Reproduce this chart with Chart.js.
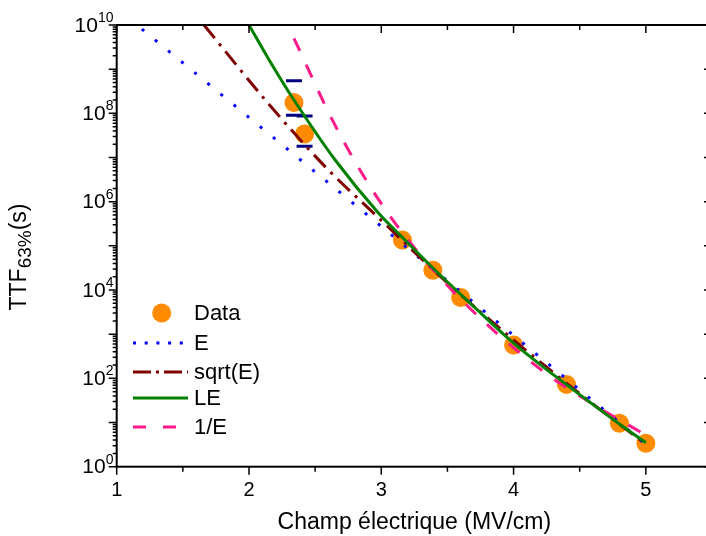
<!DOCTYPE html>
<html>
<head>
<meta charset="utf-8">
<script src="https://cdn.jsdelivr.net/npm/chart.js@4/dist/chart.umd.min.js"></script>
<style>
  html, body { margin: 0; padding: 0; background: #fff; overflow: hidden; }
  #wrap { width: 724px; height: 536px; }
</style>
</head>
<body>
<div id="wrap"><canvas id="grafico" width="724" height="536"></canvas></div>
<script>
// ================= DADOS =================

// mesures TTF 63% (s) en fonction du champ (MV/cm)
const champData = [2.34, 2.42, 3.16, 3.39, 3.60, 4.00, 4.40, 4.80, 5.00];
const ttfData = [1.75e8, 3.4e7, 1.35e5, 2.8e4, 6.8e3, 570, 73, 9.6, 3.4];

// barres d'erreur (seulement les extrémités sont visibles)
const champErreur = [2.34, 2.34, 2.42, 2.42];
const ttfErreur = [5.5e8, 9.0e7, 8.7e7, 1.8e7];

// modèle E
const champE = [1.19, 3.00, 5.00];
const ttfE = [8.1e9, 2.75e5, 3.2];

// modèle sqrt(E)
const champSqrt = [1.66, 2.13, 2.59, 2.94, 3.50, 4.00, 4.50, 5.00];
const ttfSqrt = [1.0e10, 1.9e8, 5.6e6, 5.6e5, 1.45e4, 740, 45, 3.2];

// modèle LE
const champLE = [2.00, 2.15, 2.34, 2.65, 2.98, 3.15, 3.40, 3.70, 4.00, 4.40, 4.80, 5.00];
const ttfLE = [1.0e10, 1.66e9, 2.0e8, 8.9e6, 5.5e5, 1.66e5, 2.95e4, 4.2e3, 630, 72, 9.3, 3.5];

// modèle 1/E
const champInv = [2.34, 2.63, 2.83, 3.06, 3.40, 3.77, 4.26, 4.61, 5.00];
const ttfInv = [5.0e9, 7.1e7, 5.8e6, 5.0e5, 2.7e4, 2.0e3, 120, 25, 5.2];

const expoentes = [0, 2, 4, 6, 8, 10];

const FONTE = '"Liberation Sans", Arial, sans-serif';

function pares(xs, ys) {
  return xs.map((x, i) => ({ x, y: ys[i] }));
}

// ================= PLUGIN EIXOS / LEGENDA =================

const legenda = [
  { label: "Data", tipo: "ponto", cor: "#FF8C00", y: 313 },
  { label: "E", cor: "#0000FF", dash: [3, 8.7], y: 343 },
  { label: "sqrt(E)", cor: "#800000", dash: [18, 5, 3, 5], y: 372 },
  { label: "LE", cor: "#008000", dash: [], y: 398 },
  { label: "1/E", cor: "#FF1A8C", dash: [13, 17], y: 427 }
];

const eixosPlugin = {
  id: "eixos",
  afterDraw(chart) {
    const { ctx, chartArea: a, scales: { x, y } } = chart;
    ctx.save();

    // moldura
    ctx.strokeStyle = "#000";
    ctx.lineWidth = 2;
    ctx.strokeRect(a.left, a.top, a.right - a.left, a.bottom - a.top);

    // ticks
    ctx.lineWidth = 1.5;
    ctx.beginPath();
    for (let v = 1; v <= 5.5; v += 0.5) {
      const px = x.getPixelForValue(v);
      const len = Number.isInteger(v) ? 8 : 5;
      ctx.moveTo(px, a.bottom); ctx.lineTo(px, a.bottom + len);
      ctx.moveTo(px, a.top); ctx.lineTo(px, a.top + len);
    }
    for (let e = 0; e <= 10; e++) {
      for (let m = 1; m <= 9; m++) {
        if (e === 10 && m > 1) break;
        const py = y.getPixelForValue(m * Math.pow(10, e));
        const len = m === 1 ? 8 : 4;
        ctx.moveTo(a.left, py); ctx.lineTo(a.left - len, py);
        ctx.moveTo(a.right, py); ctx.lineTo(a.right - len, py);
      }
    }
    ctx.stroke();

    // labels do eixo y (10 com expoente)
    ctx.fillStyle = "#000";
    ctx.textAlign = "left";
    ctx.textBaseline = "middle";
    ctx.font = `14px ${FONTE}`;
    const wUm = ctx.measureText("0").width;
    expoentes.forEach(e => {
      const py = y.getPixelForValue(Math.pow(10, e));
      ctx.font = `14px ${FONTE}`;
      const wSup = ctx.measureText(String(e)).width;
      ctx.font = `21px ${FONTE}`;
      const wBase = ctx.measureText("10").width;
      const fim = a.left - 11 - (wSup - wUm);
      ctx.fillText("10", fim - wBase, py + 1);
      ctx.font = `14px ${FONTE}`;
      ctx.fillText(String(e), fim, py - 7);
    });

    // titulo do eixo y com indice
    ctx.translate(26, 257);
    ctx.rotate(-Math.PI / 2);
    ctx.textBaseline = "alphabetic";
    ctx.font = `23px ${FONTE}`;
    const w1 = ctx.measureText("TTF").width;
    const w3 = ctx.measureText("(s)").width;
    ctx.font = `19px ${FONTE}`;
    const w2 = ctx.measureText("63%").width;
    let cx = -(w1 + w2 + w3) / 2;
    ctx.font = `23px ${FONTE}`;
    ctx.fillText("TTF", cx, 0);
    cx += w1;
    ctx.font = `19px ${FONTE}`;
    ctx.fillText("63%", cx, 5);
    cx += w2;
    ctx.font = `23px ${FONTE}`;
    ctx.fillText("(s)", cx, 0);
    ctx.restore();

    // legenda
    ctx.save();
    ctx.font = `22px ${FONTE}`;
    ctx.textBaseline = "middle";
    ctx.textAlign = "left";
    legenda.forEach(item => {
      if (item.tipo === "ponto") {
        ctx.fillStyle = item.cor;
        ctx.beginPath();
        ctx.arc(161.7, item.y, 9.5, 0, Math.PI * 2);
        ctx.fill();
      } else {
        ctx.strokeStyle = item.cor;
        ctx.lineWidth = 3;
        ctx.setLineDash(item.dash);
        ctx.beginPath();
        ctx.moveTo(133, item.y);
        ctx.lineTo(188, item.y);
        ctx.stroke();
        ctx.setLineDash([]);
      }
      ctx.fillStyle = "#000";
      ctx.fillText(item.label, 194, item.y + 1);
    });
    ctx.restore();
  }
};

// ================= GRAFICO =================

function linha(label, xs, ys, cor, dash, ordem) {
  return {
    label,
    data: pares(xs, ys),
    showLine: true,
    borderColor: cor,
    borderWidth: 3,
    borderDash: dash,
    pointRadius: 0,
    cubicInterpolationMode: "monotone",
    order: ordem
  };
}

new Chart(document.getElementById("grafico"), {
  type: "scatter",
  data: {
    datasets: [
      {
        label: "Data",
        data: pares(champData, ttfData),
        backgroundColor: "#FF8C00",
        borderWidth: 0,
        pointRadius: 9.5,
        order: 10
      },
      {
        label: "erreur",
        data: pares(champErreur, ttfErreur),
        pointStyle: "line",
        pointRadius: 8,
        borderColor: "#000080",
        borderWidth: 3,
        order: 9
      },
      linha("E", champE, ttfE, "#0000FF", [3, 14], 4),
      linha("sqrt(E)", champSqrt, ttfSqrt, "#800000", [17, 7, 3, 7], 3),
      linha("LE", champLE, ttfLE, "#008000", [], 1),
      linha("1/E", champInv, ttfInv, "#FF1A8C", [14, 15], 2)
    ]
  },
  options: {
    responsive: false,
    animation: false,
    devicePixelRatio: 1,
    layout: { padding: { top: 25, right: 5.3, left: 0, bottom: 0 } },
    plugins: { legend: { display: false }, tooltip: { enabled: false } },
    scales: {
      x: {
        type: "linear",
        min: 1,
        max: 5.5,
        grid: { display: false, drawTicks: false },
        border: { display: false },
        ticks: {
          stepSize: 0.5,
          autoSkip: false,
          maxRotation: 0,
          padding: 12,
          color: "#000",
          font: { family: FONTE, size: 20 },
          callback: v => (Number.isInteger(v) ? v : "")
        },
        title: {
          display: true,
          text: "Champ électrique (MV/cm)",
          color: "#000",
          font: { family: FONTE, size: 23 },
          padding: { top: 0, bottom: 0 }
        },
        afterFit(s) { s.height = 69.3; }
      },
      y: {
        type: "logarithmic",
        min: 1,
        max: 1e10,
        grid: { display: false, drawTicks: false },
        border: { display: false },
        ticks: { display: false },
        afterFit(s) { s.width = 116.7; }
      }
    }
  },
  plugins: [eixosPlugin]
});
</script>
</body>
</html>
